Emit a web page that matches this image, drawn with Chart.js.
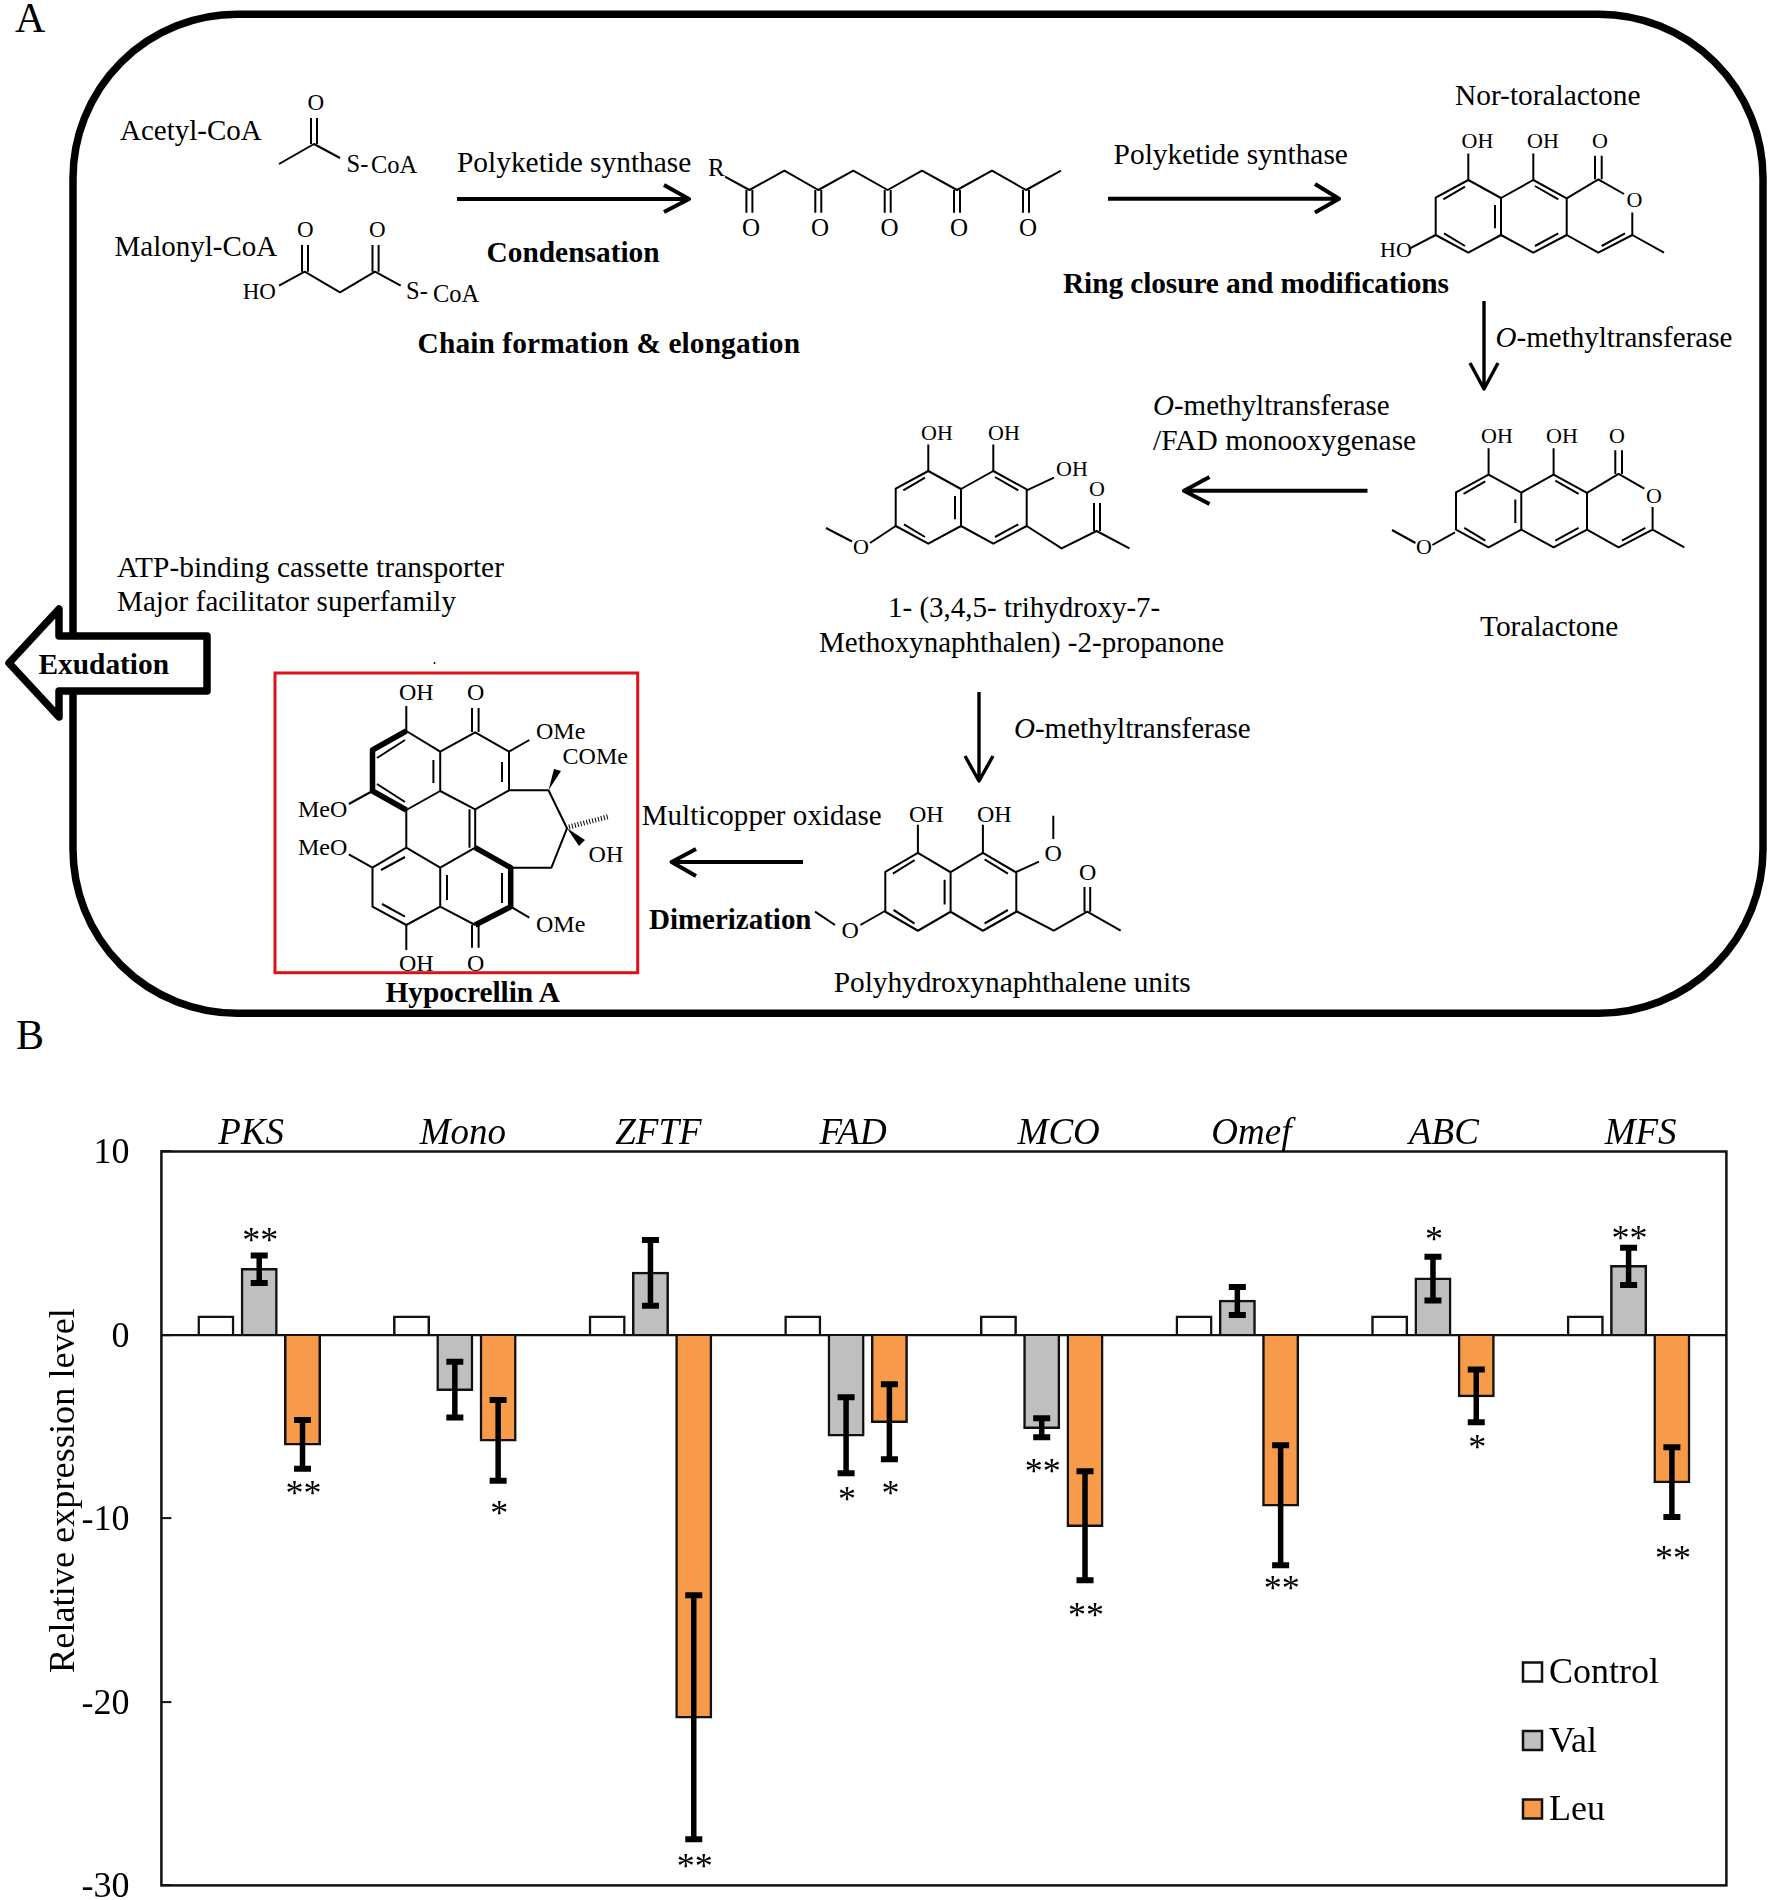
<!DOCTYPE html>
<html>
<head>
<meta charset="utf-8">
<title>Hypocrellin A pathway and gene expression</title>
<script src="https://cdn.jsdelivr.net/npm/chart.js@4"></script>
<style>
    html, body { margin: 0; padding: 0; background: #fff; }
    #page { position: relative; width: 1770px; height: 1900px; overflow: hidden; }
    #pathway { position: absolute; left: 0; top: 0; }
    #graficoBarras { position: absolute; left: 0; top: 1060px; }
    #pathway text { font-family: "Liberation Serif", serif; font-size: 29.4px; fill: #000; }
    #pathway text.bold { font-weight: bold; }
    #pathway text.enzyme { font-size: 29px; }
    #pathway text.atom { font-size: 23px; }
    #pathway text.coa { font-size: 24.5px; }
    #pathway text.panel { font-size: 42px; }
    #pathway path { fill: none; stroke: #000; stroke-width: 2; stroke-linejoin: round; }
    #pathway path.arrow { stroke-width: 4; }
    #pathway path.heavy { stroke-width: 5.5; }
</style>
</head>
<body>
<div id="page">
<svg id="pathway" width="1770" height="1060" viewBox="0 0 1770 1060">
    <defs>
        <g id="naftaleno">
            <path d="M1468.3 180 L1435.7 197.7 V235 L1468.3 252.7 L1501 235 V198 Z M1501 198 L1533.3 180 L1566.7 198.3 V235 L1533.3 252.7 L1501 235"/>
            <path d="M1443.3 199.3 L1465 186.7 M1444 233.3 L1465 246 M1495 205 V228.3 M1535 186 L1558.3 199.3 M1535 246 L1558.3 233.3"/>
            <path d="M1468.3 180 V153.6 M1533.3 180 V153.6"/>
        </g>
        <g id="lactona">
            <path d="M1566.7 198.3 L1598.3 179.3 L1624 194 M1632.3 212.5 V235 L1598.3 252.7 L1566.7 235 M1601.7 246 L1625 233.3 M1632.3 235 L1664 252.7 M1595 155.7 V179.3 M1601.7 155.7 V179.3"/>
        </g>
    </defs>

    <text class="panel" x="15" y="32">A</text>
    <text class="panel" x="16" y="1049">B</text>

    <!-- cell outline -->
    <rect x="73" y="14.3" width="1690" height="999" rx="164" ry="164" fill="none" stroke="#000" stroke-width="7.5"/>

    <!-- acetyl-CoA and malonyl-CoA -->
    <text class="enzyme" x="120" y="140">Acetyl-CoA</text>
    <path d="M279 164 L314 144 L340 158 M311 118 V144 M317 118 V144"/>
    <text class="atom" x="307.5" y="110">O</text>
    <text class="coa" x="346.5" y="172">S-</text>
    <text class="coa" x="371" y="173">CoA</text>
    <text class="enzyme" x="114.5" y="256">Malonyl-CoA</text>
    <path d="M279 285.7 L304.7 271.7 L340 292.3 L375 271.7 L400.7 285.7 M302 245 V271.7 M308 245 V271.7 M372.5 245 V271.7 M378.6 245 V271.7"/>
    <text class="atom" x="297" y="237">O</text>
    <text class="atom" x="369" y="237">O</text>
    <text class="atom" x="242.7" y="299">HO</text>
    <text class="coa" x="406" y="299">S-</text>
    <text class="coa" x="433" y="302">CoA</text>

    <text x="457" y="171.7">Polyketide synthase</text>
    <path class="arrow" d="M457 199 H688 M664 185 L689 199 L664 212"/>
    <text class="bold" x="486.5" y="261.7">Condensation</text>
    <text class="bold" x="417.6" y="353" textLength="382.4">Chain formation &amp; elongation</text>

    <!-- polyketide chain -->
    <text class="atom" x="708" y="176" style="font-size:25px">R</text>
    <path d="M725 176.7 L749.4 190 L784.4 170.7 L818.3 190 L853.3 170.7 L887.7 190 L922 170.7 L957 190 L992 170.7 L1026 190 L1061 170.7"/>
    <path d="M746.4 190 V212.7 M752.4 190 V212.7 M815.3 190 V212.7 M821.3 190 V212.7 M884.7 190 V212.7 M890.7 190 V212.7 M954 190 V212.7 M960 190 V212.7 M1023 190 V212.7 M1029 190 V212.7"/>
    <text class="atom" x="742" y="236" style="font-size:25px">O</text>
    <text class="atom" x="811" y="236" style="font-size:25px">O</text>
    <text class="atom" x="880.5" y="236" style="font-size:25px">O</text>
    <text class="atom" x="950" y="236" style="font-size:25px">O</text>
    <text class="atom" x="1019" y="236" style="font-size:25px">O</text>

    <text x="1113.6" y="164">Polyketide synthase</text>
    <path class="arrow" d="M1108 198.7 H1337 M1315 184 L1339 198.7 L1315 212.5"/>
    <text class="bold" x="1063" y="293" textLength="386">Ring closure and modifications</text>

    <!-- nor-toralactone -->
    <text x="1455" y="105">Nor-toralactone</text>
    <use href="#naftaleno"/>
    <use href="#lactona"/>
    <path d="M1410 248.3 L1435.7 235"/>
    <text class="atom" x="1461.5" y="148" style="font-size:22px">OH</text>
    <text class="atom" x="1527" y="148" style="font-size:22px">OH</text>
    <text class="atom" x="1592" y="148" style="font-size:22px">O</text>
    <text class="atom" x="1626.5" y="207" style="font-size:22px">O</text>
    <text class="atom" x="1380" y="257" style="font-size:22px">HO</text>

    <path class="arrow" d="M1484 301 V387 M1470 363 L1484 389 L1498 363" style="stroke-width:3.4"/>
    <text class="enzyme" x="1495.6" y="347"><tspan font-style="italic">O</tspan>-methyltransferase</text>

    <!-- toralactone -->
    <use href="#naftaleno" transform="translate(20.3 294.6)"/>
    <use href="#lactona" transform="translate(20.3 294.6)"/>
    <path d="M1455 532.4 L1432.4 545 M1392 530 L1415.5 543"/>
    <text class="atom" x="1481" y="442.7" style="font-size:22px">OH</text>
    <text class="atom" x="1546" y="442.7" style="font-size:22px">OH</text>
    <text class="atom" x="1609" y="442.7" style="font-size:22px">O</text>
    <text class="atom" x="1646" y="503" style="font-size:22px">O</text>
    <text class="atom" x="1416" y="554" style="font-size:22px">O</text>
    <text x="1480" y="635.5">Toralactone</text>

    <text class="enzyme" x="1153" y="414.6"><tspan font-style="italic">O</tspan>-methyltransferase</text>
    <text x="1153" y="450">/FAD monooxygenase</text>
    <path class="arrow" d="M1367.5 490.7 H1186 M1209.5 477 L1184 490.7 L1209.5 504"/>

    <!-- 1-(3,4,5-trihydroxy-7-methoxynaphthalen)-2-propanone -->
    <use href="#naftaleno" transform="translate(-540 291)"/>
    <path d="M1026.7 490.3 L1054 477.7 M1026.7 526 L1061.6 548.4 L1096.6 531 L1129.4 548.4 M1094 503 V531 M1100 503 V531"/>
    <path d="M895.7 526 L870 543 M826 528 L852 541.5"/>
    <text class="atom" x="921" y="440" style="font-size:22px">OH</text>
    <text class="atom" x="988" y="440" style="font-size:22px">OH</text>
    <text class="atom" x="1056" y="476.4" style="font-size:22px">OH</text>
    <text class="atom" x="1089" y="495.8" style="font-size:22px">O</text>
    <text class="atom" x="853" y="554" style="font-size:22px">O</text>
    <text class="enzyme" x="888" y="616.6">1- (3,4,5- trihydroxy-7-</text>
    <text class="enzyme" x="819" y="652">Methoxynaphthalen) -2-propanone</text>

    <path class="arrow" d="M979 692 V778 M965 756 L979 781 L993 756" style="stroke-width:3.4"/>
    <text class="enzyme" x="1014" y="738"><tspan font-style="italic">O</tspan>-methyltransferase</text>

    <!-- polyhydroxynaphthalene unit -->
    <use href="#naftaleno" transform="translate(-550.4 673) translate(1467 181) scale(1 1.07) translate(-1467 -181)"/>
    <path d="M1016 872 L1039 861.7 M1053.3 815.7 V839 M1016 911 L1053.8 930.7 L1087.2 911.7 L1120.7 930.7 M1084.5 887 V911.7 M1090.2 887 V911.7"/>
    <path d="M885 911 L860.4 925 M815 911.7 L835 925"/>
    <text class="atom" x="909" y="822.3" style="font-size:24px">OH</text>
    <text class="atom" x="977" y="822.3" style="font-size:24px">OH</text>
    <text class="atom" x="1044.5" y="861" style="font-size:24px">O</text>
    <text class="atom" x="1079" y="880" style="font-size:24px">O</text>
    <text class="atom" x="841.5" y="937.7" style="font-size:24px">O</text>
    <text x="833.7" y="991.7" textLength="357">Polyhydroxynaphthalene units</text>

    <text class="enzyme" x="641.7" y="825" textLength="240">Multicopper oxidase</text>
    <path class="arrow" d="M803 862 H674 M696 849 L671.6 862 L696 876"/>
    <text class="enzyme bold" x="649" y="929" textLength="162.5">Dimerization</text>

    <!-- transporters and exudation -->
    <text x="117" y="576.7" textLength="387">ATP-binding cassette transporter</text>
    <text class="enzyme" x="117" y="611" textLength="339">Major facilitator superfamily</text>
    <polygon points="9,663 59,609 59,636 207,636 207,691 59,691 59,717" fill="#fff" stroke="#000" stroke-width="7.5" stroke-linejoin="round"/>
    <text class="bold" x="38.4" y="674.3">Exudation</text>

    <!-- hypocrellin A -->
    <circle cx="434.5" cy="663" r="1" fill="#000"/>
    <rect x="275" y="673" width="362.7" height="299.7" fill="none" stroke="#dc1218" stroke-width="3"/>
    <path d="M406.3 731 L440.2 751.7 V791 L406.3 810 M440.2 791 L475.2 809.3 L509 790.3 V751.7 L475.2 732.3 L440.2 751.7"/>
    <path d="M469.5 809.3 V847.7 M475.2 809.3 V847.7 M406.3 810 V847.7 L372.5 867.7 V906.7 L406.3 925 L440.2 906.7 V867.7 L406.3 847.7 M440.2 867.7 L475.2 847.7 M440.2 906.7 L475.2 925"/>
    <path d="M509 790.3 H548.5 L567 828.3 L551.4 867.7 H510.7"/>
    <path d="M377 758 L405 740 M377 784 L405 802 M433.4 760 V783 M502 762 V782 M381 870 L405 857 M382 904 L405 916.7 M447 875 V900 M502 873 V903"/>
    <path class="heavy" d="M406.3 731 L372.5 750 V791 L406.3 810"/>
    <path class="heavy" d="M475.2 847.7 L510.7 867.7 V906.7 L475.2 925"/>
    <path d="M406.3 731 V706 M472 708 V732 M478.6 708 V732 M509 751.7 L529.3 740 M372.5 791 L348.8 804 M372.5 867.7 L348.8 854.3 M510.7 906.7 L529.3 917.7 M406.3 925 V950 M472 925 V947.7 M478.6 925 V947.7"/>
    <polygon points="548.5,790.3 554,769 561,771" fill="#000"/>
    <polygon points="567,828.3 579,846 585,840" fill="#000"/>
    <path d="M569 827 L607.8 816.7" style="stroke-width:5;stroke-dasharray:1 2"/>
    <text class="atom" x="399" y="700" style="font-size:24px">OH</text>
    <text class="atom" x="467" y="700" style="font-size:24px">O</text>
    <text class="atom" x="536" y="739.3" style="font-size:24px">OMe</text>
    <text class="atom" x="562.6" y="764.3" style="font-size:24px">COMe</text>
    <text class="atom" x="588.6" y="862.3" style="font-size:24px">OH</text>
    <text class="atom" x="298" y="816.7" style="font-size:24px">MeO</text>
    <text class="atom" x="298" y="855" style="font-size:24px">MeO</text>
    <text class="atom" x="536" y="932.3" style="font-size:24px">OMe</text>
    <text class="atom" x="399" y="970.7" style="font-size:24px">OH</text>
    <text class="atom" x="467" y="970.7" style="font-size:24px">O</text>
    <text class="bold" x="385.5" y="1001.7" textLength="174.5">Hypocrellin A</text>
</svg>
<canvas id="graficoBarras" width="1770" height="840"></canvas>
</div>

<script>
// Chart data
const categories = ['PKS', 'Mono', 'ZFTF', 'FAD', 'MCO', 'Omef', 'ABC', 'MFS'];
const controlValues = [1, 1, 1, 1, 1, 1, 1, 1];
const valValues = [3.58, -2.98, 3.38, -5.46, -5.06, 1.85, 3.07, 3.74];
const leuValues = [-5.96, -5.74, -20.84, -4.73, -10.4, -9.28, -3.32, -8.02];
const valErrors = [0.75, 1.52, 1.79, 2.07, 0.52, 0.76, 1.19, 1.01];
const leuErrors = [1.33, 2.2, 6.65, 2.04, 2.97, 3.27, 1.44, 1.9];
const valStars = ['**', '', '', '*', '**', '', '*', '**'];
const leuStars = ['**', '*', '**', '*', '**', '**', '*', '**'];
const valStarLevels = [5.4, null, null, -8.69, -7.17, null, 5.46, 5.5];
const leuStarLevels = [-8.35, -9.48, -28.7, -8.35, -15, -13.56, -5.88, -11.93];
const yTicks = [10, 0, -10, -20, -30];

const FONT = '"Liberation Serif", serif';
// The gene names in the figure sit a little off the group centres
const labelNudge = [-8, 8, 8, 7, 17, 14, 11, 12];

// Error bars and significance stars, placed with the chart's own scales
const errorBars = {
    id: 'errorBars',
    afterDatasetsDraw(chart) {
        const ctx = chart.ctx;
        const y = chart.scales.y;
        const sets = [
            { index: 1, values: valValues, errors: valErrors, stars: valStars, levels: valStarLevels },
            { index: 2, values: leuValues, errors: leuErrors, stars: leuStars, levels: leuStarLevels }
        ];
        ctx.save();
        sets.forEach(set => {
            const bars = chart.getDatasetMeta(set.index).data;
            bars.forEach((bar, i) => {
                const top = y.getPixelForValue(set.values[i] + set.errors[i]);
                const bottom = y.getPixelForValue(set.values[i] - set.errors[i]);
                ctx.strokeStyle = '#000';
                ctx.lineWidth = 5.5;
                ctx.beginPath();
                ctx.moveTo(bar.x, top);
                ctx.lineTo(bar.x, bottom);
                ctx.stroke();
                ctx.lineWidth = 6;
                ctx.beginPath();
                ctx.moveTo(bar.x - 8.5, top);
                ctx.lineTo(bar.x + 8.5, top);
                ctx.moveTo(bar.x - 8.5, bottom);
                ctx.lineTo(bar.x + 8.5, bottom);
                ctx.stroke();

                if (set.stars[i]) {
                    ctx.fillStyle = '#000';
                    ctx.font = '36px ' + FONT;
                    ctx.textAlign = 'center';
                    ctx.textBaseline = 'alphabetic';
                    ctx.fillText(set.stars[i], bar.x + 1, y.getPixelForValue(set.levels[i]) + 16.4);
                }
            });
        });
        ctx.restore();
    }
};

// Plot frame, gene names, axis title and the legend inside the plot
const figureParts = {
    id: 'figureParts',
    afterDraw(chart) {
        const ctx = chart.ctx;
        const area = chart.chartArea;
        const x = chart.scales.x;
        ctx.save();
        ctx.strokeStyle = '#111';
        ctx.lineWidth = 2.5;
        ctx.strokeRect(area.left, area.top, area.right - area.left, area.bottom - area.top);

        ctx.fillStyle = '#000';
        ctx.font = 'italic 37px ' + FONT;
        ctx.textAlign = 'center';
        ctx.textBaseline = 'alphabetic';
        categories.forEach((name, i) => {
            ctx.fillText(name, x.getPixelForTick(i) + labelNudge[i], area.top - 7.5);
        });

        ctx.save();
        ctx.translate(74, 1490.5 - 1060);
        ctx.rotate(-Math.PI / 2);
        ctx.font = '36.3px ' + FONT;
        ctx.fillText('Relative expression level', 0, 0);
        ctx.restore();

        ctx.textAlign = 'left';
        ctx.textBaseline = 'middle';
        ctx.font = '36px ' + FONT;
        chart.data.datasets.forEach((set, i) => {
            const rowY = 1672 - 1060 + i * 68.5;
            ctx.fillStyle = set.backgroundColor;
            ctx.strokeStyle = '#111';
            ctx.lineWidth = 2.5;
            ctx.fillRect(1523, rowY - 9.5, 19, 19);
            ctx.strokeRect(1523, rowY - 9.5, 19, 19);
            ctx.fillStyle = '#000';
            ctx.fillText(set.label, 1549, rowY + 2);
        });
        ctx.restore();
    }
};

function generarGrafico() {
    const ctx = document.getElementById('graficoBarras').getContext('2d');
    const barStyle = {
        borderColor: '#111',
        borderWidth: 2.5,
        borderSkipped: 'start',
        inflateAmount: 1.25,
        categoryPercentage: 0.664,
        barPercentage: 0.797
    };
    new Chart(ctx, {
        type: 'bar',
        data: {
            labels: categories,
            datasets: [
                { label: 'Control', data: controlValues, backgroundColor: '#ffffff', ...barStyle },
                { label: 'Val', data: valValues, backgroundColor: '#bfbfbf', ...barStyle },
                { label: 'Leu', data: leuValues, backgroundColor: '#f79a4a', ...barStyle }
            ]
        },
        options: {
            responsive: false,
            animation: false,
            layout: { padding: { left: 0, right: 43.6, top: 91.5, bottom: 14.6 } },
            plugins: {
                legend: { display: false },
                tooltip: { enabled: false }
            },
            scales: {
                x: { display: false },
                y: {
                    min: -30,
                    max: 10,
                    afterBuildTicks: axis => {
                        axis.ticks = yTicks.map(value => ({ value: value }));
                    },
                    afterFit: axis => {
                        axis.width = 161.4;
                        axis.paddingTop = 0;
                        axis.paddingBottom = 0;
                    },
                    border: { display: false },
                    grid: {
                        color: c => (c.tick && c.tick.value === 0 ? '#111' : 'rgba(0,0,0,0)'),
                        lineWidth: 2.2,
                        tickColor: '#111',
                        tickWidth: 2,
                        tickLength: -10
                    },
                    ticks: {
                        color: '#000',
                        padding: 42,
                        labelOffset: 2.5,
                        font: { family: FONT, size: 36 }
                    }
                }
            }
        },
        plugins: [errorBars, figureParts]
    });
}

document.addEventListener('DOMContentLoaded', generarGrafico);
</script>
</body>
</html>
